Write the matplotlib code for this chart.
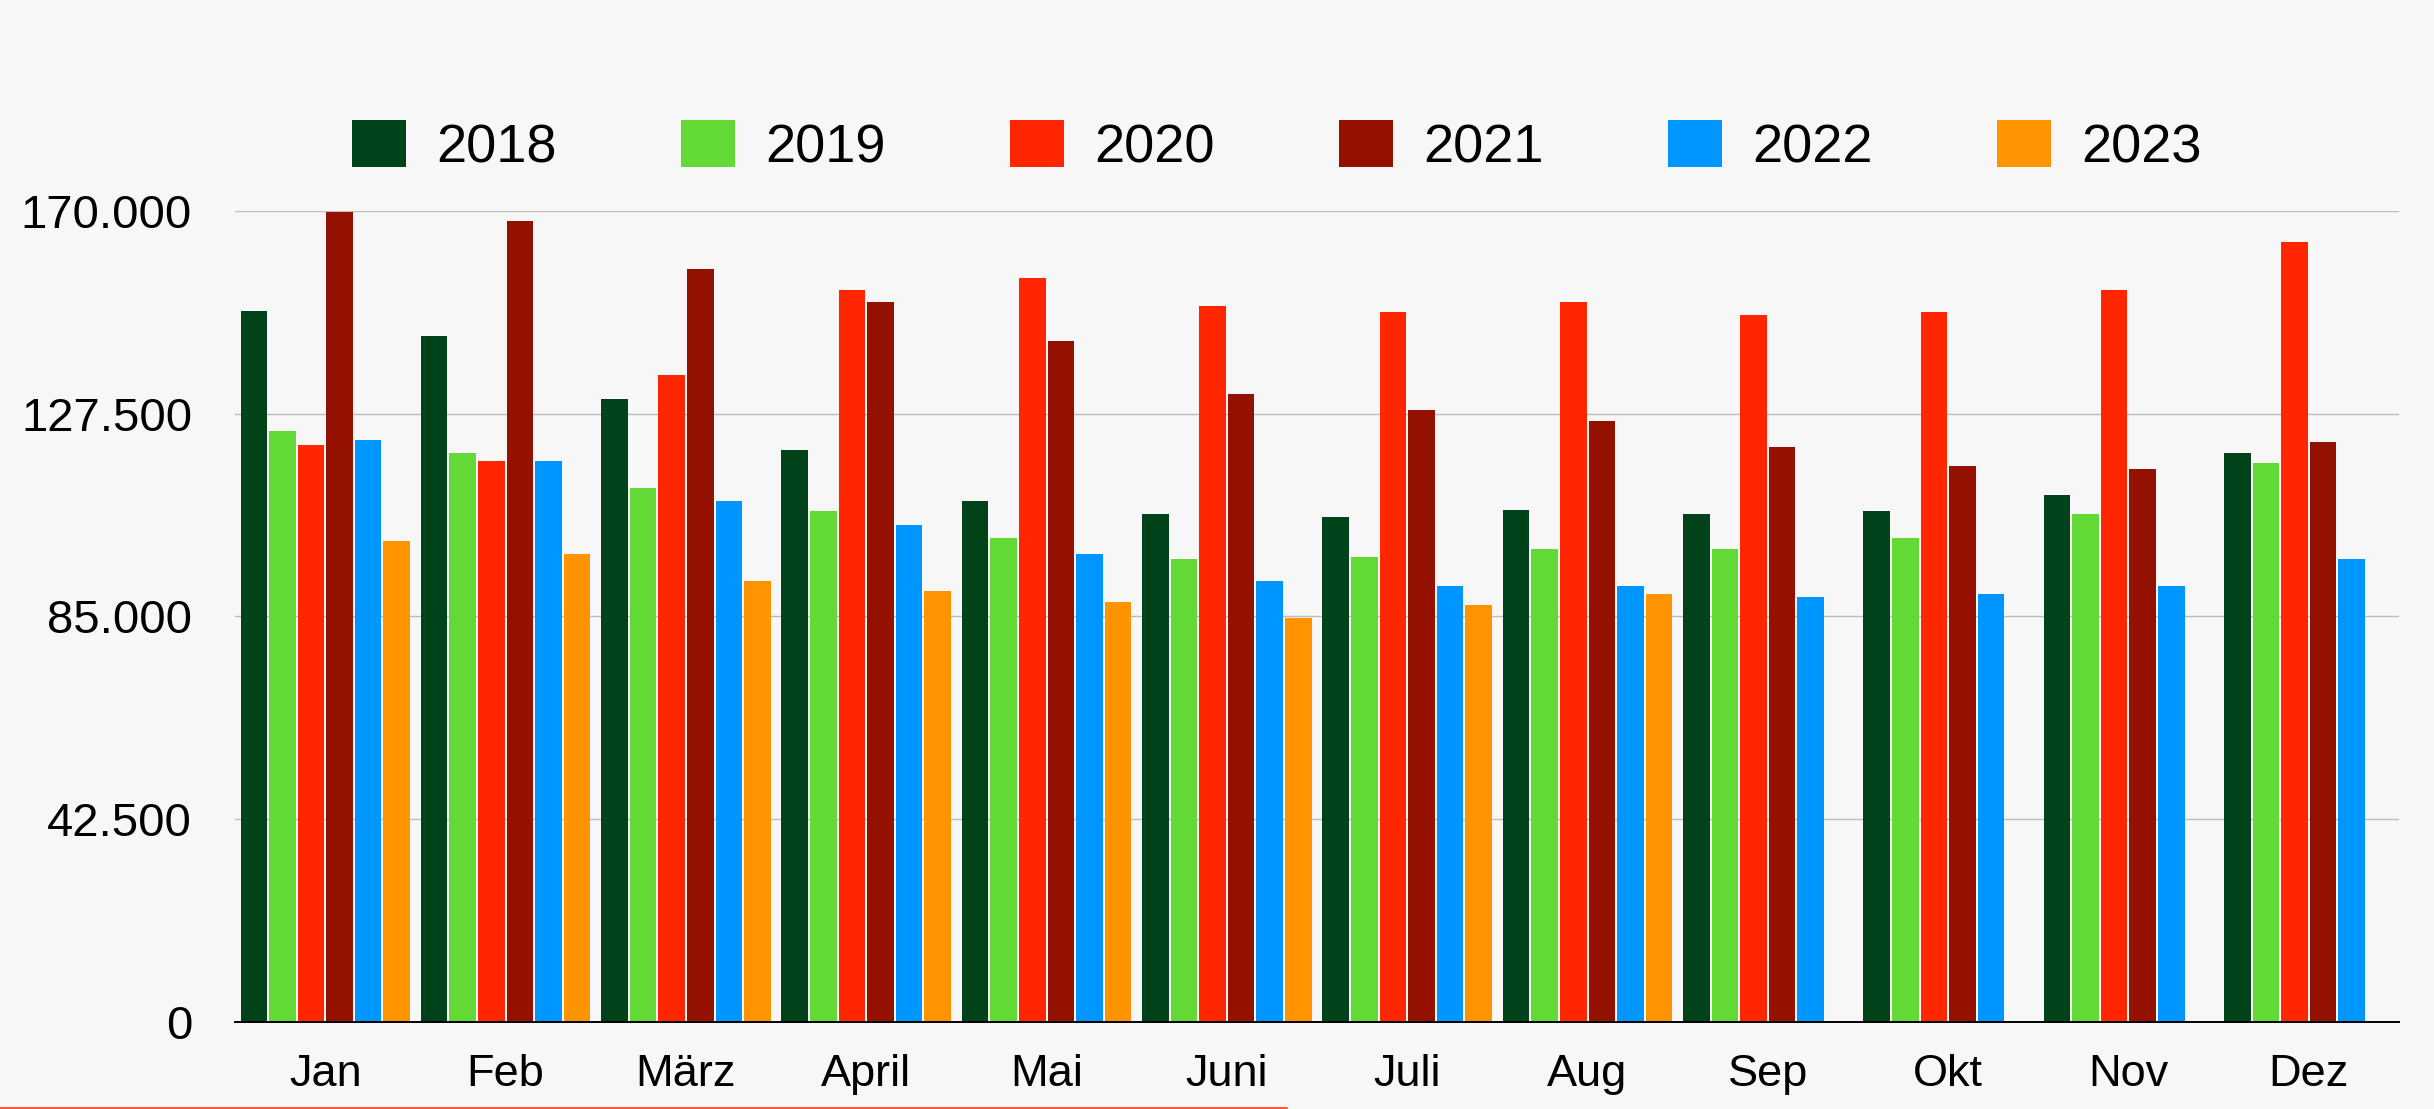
import numpy as np
import matplotlib
matplotlib.use('Agg')
import matplotlib.pyplot as plt
from matplotlib.lines import Line2D
from matplotlib.patches import Patch
from matplotlib.ticker import FuncFormatter

plt.rcParams['font.family'] = ['Liberation Sans', 'DejaVu Sans']

# Monthly values per year
months = ['Jan', 'Feb', 'März', 'April', 'Mai', 'Juni', 'Juli', 'Aug', 'Sep', 'Okt', 'Nov', 'Dez']
years = ['2018', '2019', '2020', '2021', '2022', '2023']
v2018 = [149000, 143900, 130600, 119900, 109200, 106400, 105800, 107400, 106400, 107100, 110400, 119300]
v2019 = [123900, 119300, 112000, 107100, 101400, 97100, 97400, 99100, 99100, 101400, 106400, 117100]
v2020 = [120900, 117500, 135600, 153400, 156000, 150000, 148900, 151000, 148300, 148900, 153400, 163500]
v2021 = [169700, 167900, 157800, 151000, 142700, 131600, 128200, 126000, 120500, 116500, 115900, 121500]
v2022 = [122100, 117500, 109200, 104200, 98100, 92500, 91300, 91300, 89100, 89700, 91300, 97100]
v2023 = [100800, 98100, 92500, 90300, 88000, 84600, 87400, 89700, np.nan, np.nan, np.nan, np.nan]
series = [v2018, v2019, v2020, v2021, v2022, v2023]
colors = ['#00421a', '#63d936', '#ff2600', '#941100', '#0096ff', '#ff9300']
yticks = [0, 42500, 85000, 127500, 170000]

bg = '#f7f7f7'
fig = plt.figure(figsize=(24.34, 11.09), dpi=100, facecolor=bg)
ax = fig.add_axes([0.0966, 0.0785, 0.889, 0.7312], facecolor=bg)

x = np.arange(len(months))
slot = 0.1585
for i, (vals, c) in enumerate(zip(series, colors)):
    ax.bar(x + (i - 2.5) * slot, vals, width=slot * 0.93, color=c, zorder=3)

ax.set_xlim(-0.5, len(months) - 0.5)
ax.set_ylim(0, 170000)
ax.set_yticks(yticks)
ax.yaxis.set_major_formatter(FuncFormatter(lambda v, p: f'{v:,.0f}'.replace(',', '.')))
ax.set_xticks(x)
ax.set_xticklabels(months)
ax.grid(axis='y', color='#bdbdbd', linewidth=1.0, zorder=0)
ax.tick_params(axis='y', length=0, pad=31, labelsize=34)
ax.tick_params(axis='x', length=0, pad=23, labelsize=32.5)
for s in ['top', 'right', 'left']:
    ax.spines[s].set_visible(False)
ax.spines['bottom'].set_linewidth(1.4)
ax.spines['bottom'].set_zorder(4)

handles = [Patch(facecolor=c, edgecolor='none') for c in colors]
fig.legend(handles, years, loc='center', bbox_to_anchor=(0.5245, 0.8675), ncol=6,
           frameon=False, fontsize=39, handlelength=1.0, handleheight=0.95,
           handletextpad=0.55, columnspacing=2.3)

# thin red line at the very bottom, as in the screenshot
fig.add_artist(Line2D([0, 1287 / 2434], [0.0012, 0.0012], transform=fig.transFigure,
                      color='#ff2600', linewidth=1.1))

fig.savefig('out.png', dpi=100, facecolor=bg)
